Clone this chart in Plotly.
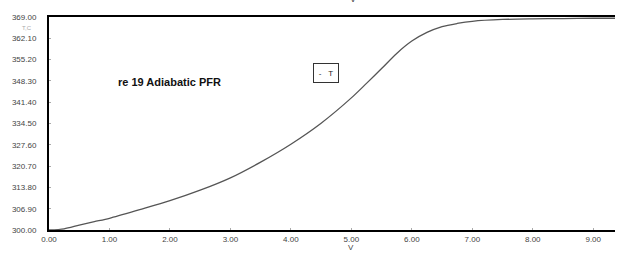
import plotly.graph_objects as go

# Data
V = [0.0, 0.25, 0.5, 0.75, 1.0, 1.5, 2.0, 2.5, 3.0, 3.5, 4.0, 4.5, 5.0, 5.25,
     5.5, 5.75, 6.0, 6.25, 6.5, 6.75, 7.0, 7.5, 8.0, 8.5, 9.0, 9.36]
T = [300.0, 300.4, 301.6, 302.7, 303.8, 306.6, 309.5, 312.9, 316.9, 322.0,
     327.8, 334.6, 342.8, 347.5, 352.3, 357.2, 361.2, 364.0, 365.9, 366.9,
     367.6, 368.2, 368.4, 368.5, 368.6, 368.6]

x_ticks = [0, 1, 2, 3, 4, 5, 6, 7, 8, 9]
y_ticks = [300.00, 306.90, 313.80, 320.70, 327.60, 334.50, 341.40, 348.30,
           355.20, 362.10, 369.00]
title_text = "re 19 Adiabatic PFR"
series_name = "T"

FONT = "Liberation Sans, Arial, sans-serif"

fig = go.Figure()
fig.add_trace(go.Scatter(x=V, y=T, mode="lines", name=series_name,
                         line=dict(color="#555555", width=1.3,
                                   shape="spline", smoothing=0.8),
                         showlegend=False))

W, H = 630, 256
ml, mr, mt, mb = 46, 15, 17, 23

fig.update_layout(
    width=W, height=H,
    margin=dict(l=ml, r=mr, t=mt, b=mb, pad=0),
    paper_bgcolor="white", plot_bgcolor="white",
    font=dict(family=FONT, size=8, color="#444444"),
    xaxis=dict(range=[0, 9.36], tickvals=x_ticks,
               ticktext=[f"{v:.2f}" for v in x_ticks],
               showgrid=False, zeroline=False,
               showline=True, linecolor="black", linewidth=2, mirror=True,
               ticks="inside", ticklen=2, tickcolor="#aaaaaa", tickwidth=1,
               tickfont=dict(size=8, color="#444444"),
               ticklabelstandoff=0),
    yaxis=dict(range=[300, 369], tickvals=y_ticks,
               ticktext=[f"{v:.2f}" for v in y_ticks],
               showgrid=False, zeroline=False,
               showline=True, linecolor="black", linewidth=2, mirror=False,
               ticks="inside", ticklen=2, tickcolor="#aaaaaa", tickwidth=1,
               tickfont=dict(size=8, color="#444444"),
               ticklabelstandoff=9),
)

def px_x(p):
    return (p - ml) / (W - ml - mr)

def px_y(p):
    return 1 - (p - mt) / (H - mt - mb)

annots = [
    dict(text=f"<b>{title_text}</b>", x=px_x(113), y=px_y(83), xanchor="left",
         yanchor="middle", font=dict(size=11, color="#111111")),
    dict(text="-&nbsp;&nbsp;&nbsp;" + series_name, x=px_x(324), y=px_y(73.5),
         xanchor="center", yanchor="middle", font=dict(size=8, color="#222222"),
         bordercolor="#333333", borderwidth=1, borderpad=3, bgcolor="white",
         width=18, height=12),
    dict(text="V", x=px_x(350), y=px_y(251), xanchor="center", yanchor="middle",
         borderpad=0, font=dict(size=8, color="#444444")),
    dict(text="V", x=px_x(352), y=px_y(-1), xanchor="center", yanchor="middle",
         font=dict(size=9, color="#444444")),
    dict(text="T,C", x=px_x(24), y=px_y(28), xanchor="center", yanchor="middle",
         font=dict(size=6, color="#aaaaaa")),
]
for a in annots:
    a.update(xref="paper", yref="paper", showarrow=False)
fig.update_layout(annotations=annots)

fig.write_html("out.html")
